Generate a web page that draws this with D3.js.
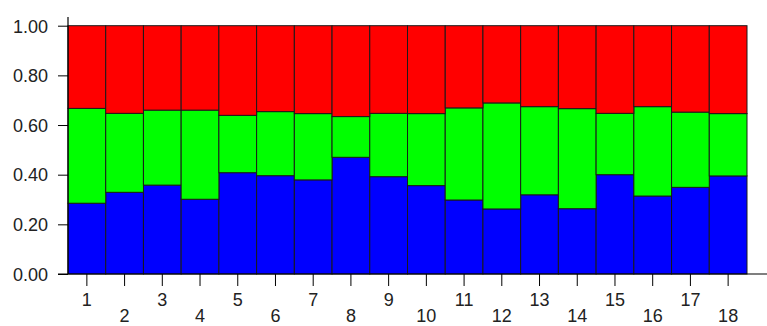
<!DOCTYPE html>
<html>
<head>
<meta charset="utf-8">
<script src="https://cdn.jsdelivr.net/npm/d3@7"></script>
<style>
  body { margin: 0; background: #fff; }
  svg { display: block; }
  text { font-family: "Liberation Sans", Arial, sans-serif; font-size: 18px; fill: #222; }
</style>
</head>
<body>
<div id="chart"></div>
<script>
// groups along the x axis
var groups = ["1","2","3","4","5","6","7","8","9","10","11","12","13","14","15","16","17","18"];
// proportions per group (bottom to top), each column sums to 1
var blue  = [0.285,0.329,0.358,0.301,0.408,0.396,0.379,0.470,0.392,0.356,0.298,0.262,0.319,0.263,0.400,0.314,0.349,0.395];
var green = [0.382,0.318,0.302,0.359,0.231,0.258,0.267,0.164,0.255,0.290,0.371,0.427,0.355,0.403,0.247,0.360,0.303,0.251];
var red   = [0.333,0.353,0.340,0.340,0.361,0.346,0.354,0.366,0.353,0.354,0.331,0.311,0.326,0.334,0.353,0.326,0.348,0.354];
var yTicks = [0, 0.2, 0.4, 0.6, 0.8, 1.0];

var width = 767, height = 326;

var svg = d3.select("#chart")
  .append("svg")
  .attr("width", width)
  .attr("height", height);

var x = d3.scaleBand().domain(groups).range([68, 747]).paddingInner(0).paddingOuter(0);
var y = d3.scaleLinear().domain([0, 1]).range([274, 25.7]);

// build stacked table
var table = groups.map(function(g, i) {
  return { group: g, blue: blue[i], green: green[i], red: red[i] };
});
var stack = d3.stack().keys(["blue", "green", "red"]);
var series = stack(table);
var colors = { blue: "#0000ff", green: "#00ff00", red: "#ff0000" };

svg.append("g")
  .selectAll("g")
  .data(series)
  .enter()
  .append("g")
    .attr("fill", function(d) { return colors[d.key]; })
  .selectAll("rect")
  .data(function(d) { return d; })
  .enter()
  .append("rect")
    .attr("x", function(d) { return x(d.data.group); })
    .attr("width", x.bandwidth())
    .attr("y", function(d) { return y(d[1]); })
    .attr("height", function(d) { return y(d[0]) - y(d[1]); })
    .attr("stroke", "#1a1a1a")
    .attr("stroke-width", 1);

// y axis
var yAxis = svg.append("g")
  .attr("transform", "translate(68,0)")
  .call(d3.axisLeft(y).tickValues(yTicks).tickFormat(d3.format(".2f")).tickSize(10).tickPadding(10));
yAxis.select(".domain").remove();
yAxis.selectAll("line").attr("stroke", "#000");
yAxis.selectAll("text").attr("font-size", 18).attr("dy", "0.35em").attr("fill", "#222");
svg.append("line")
  .attr("x1", 68).attr("x2", 68)
  .attr("y1", 17).attr("y2", y(0))
  .attr("stroke", "#000").attr("stroke-width", 1.2);

// x axis, labels staggered on two rows
var xAxis = svg.append("g")
  .attr("transform", "translate(0," + y(0) + ")")
  .call(d3.axisBottom(x).tickSize(12).tickPadding(6));
xAxis.select(".domain").remove();
xAxis.selectAll("line").attr("stroke", "#000");
xAxis.selectAll("text")
  .attr("font-size", 18)
  .attr("fill", "#222")
  .attr("dy", null)
  .attr("y", function(d, i) { return i % 2 === 0 ? 31.5 : 47.5; });
svg.append("line")
  .attr("x1", 58).attr("x2", 767)
  .attr("y1", y(0)).attr("y2", y(0))
  .attr("stroke", "#000").attr("stroke-width", 1.2);
</script>
</body>
</html>
